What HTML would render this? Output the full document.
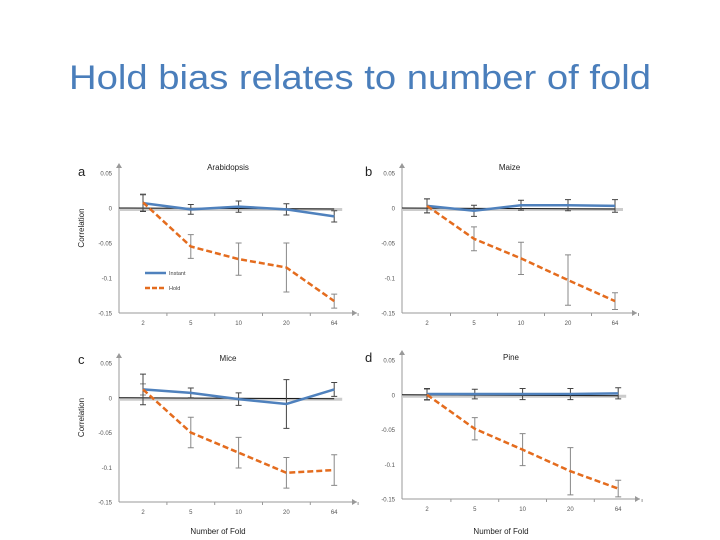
<!DOCTYPE html>
<html><head><meta charset="utf-8"><style>
html,body{margin:0;padding:0;background:#fff;}
svg{display:block;font-family:"Liberation Sans",sans-serif;}
</style></head><body>
<svg id="chart" width="720" height="540" viewBox="0 0 720 540">
<text x="69" y="89" font-size="34" fill="#4a7ebb" textLength="582" lengthAdjust="spacingAndGlyphs">Hold bias relates to number of fold</text>
</svg>
<script>
const categories = ["2","5","10","20","64"];
const yTicks = [0.05, 0, -0.05, -0.1, -0.15];
const yTickLabels = ["0.05","0","-0.05","-0.1","-0.15"];
const panelNames = ["Arabidopsis","Maize","Mice","Pine"];
const panelLetters = ["a","b","c","d"];
const instantA = [0.007,-0.002,0.002,-0.002,-0.012];
const instantAErr = [0.012,0.007,0.008,0.008,0.008];
const holdA = [0.008,-0.055,-0.073,-0.085,-0.133];
const holdAErr = [0.012,0.017,0.023,0.035,0.01];
const instantB = [0.003,-0.004,0.004,0.004,0.003];
const instantBErr = [0.01,0.008,0.007,0.008,0.009];
const holdB = [0.003,-0.044,-0.072,-0.103,-0.133];
const holdBErr = [0.01,0.017,0.023,0.036,0.012];
const instantC = [0.012,0.007,-0.002,-0.009,0.012];
const instantCErr = [0.022,0.007,0.009,0.035,0.01];
const holdC = [0.012,-0.05,-0.079,-0.108,-0.104];
const holdCErr = [0.008,0.022,0.022,0.022,0.022];
const instantD = [0.001,0.001,0.001,0.001,0.002];
const instantDErr = [0.008,0.007,0.008,0.008,0.008];
const holdD = [0,-0.049,-0.079,-0.11,-0.135];
const holdDErr = [0.008,0.016,0.023,0.034,0.012];

const svg = document.getElementById('chart');
const NS = 'http://www.w3.org/2000/svg';
function mk(tag, attrs, parent){const e=document.createElementNS(NS,tag);for(const k in attrs)e.setAttribute(k,attrs[k]);(parent||svg).appendChild(e);return e;}

const panels = [
 {ax:119, x0:143, dx:47.8, yTop:173, yBot:313, xEnd:357, inst:instantA, instE:instantAErr, hold:holdA, holdE:holdAErr, lx:78, ly:176, ty:170, xl:false, yl:true, legend:true},
 {ax:402, x0:427, dx:47, yTop:173, yBot:313, xEnd:637, inst:instantB, instE:instantBErr, hold:holdB, holdE:holdBErr, lx:365, ly:176, ty:170, xl:false, yl:false, legend:false},
 {ax:119, x0:143, dx:47.8, yTop:363, yBot:502, xEnd:357, inst:instantC, instE:instantCErr, hold:holdC, holdE:holdCErr, lx:78, ly:364, ty:361, xl:true, yl:true, legend:false},
 {ax:402, x0:427, dx:47.8, yTop:360, yBot:499, xEnd:640, inst:instantD, instE:instantDErr, hold:holdD, holdE:holdDErr, lx:365, ly:362, ty:360, xl:true, yl:false, legend:false}
];

panels.forEach((p,i)=>{
  const g = mk('g',{});
  
  
  const y = v => p.yTop + (0.05 - v) / 0.2 * (p.yBot - p.yTop);
  const x = k => p.x0 + k * p.dx;
  // axes
  const ya = mk('line',{x1:p.ax,y1:p.yTop-8,x2:p.ax,y2:p.yBot,stroke:'#999','stroke-width':1},g);
  
  
  mk('path',{d:`M${p.ax-3},${p.yTop-5} L${p.ax},${p.yTop-10} L${p.ax+3},${p.yTop-5}Z`,fill:'#999'},g);
  const xa = mk('line',{x1:p.ax,y1:p.yBot,x2:p.xEnd,y2:p.yBot,stroke:'#999','stroke-width':1},g);
  
  
  mk('path',{d:`M${p.xEnd-5},${p.yBot-3} L${p.xEnd},${p.yBot} L${p.xEnd-5},${p.yBot+3}Z`,fill:'#999'},g);
  yTicks.forEach((t,j)=>{
    const tl = mk('text',{x:p.ax-7,y:y(t)+2.5,'font-size':6,'text-anchor':'end',fill:'#555'},g);
    tl.textContent = yTickLabels[j];
    
    
  });
  categories.forEach((c,k)=>{
    mk('line',{x1:x(k)+p.dx/2,y1:p.yBot,x2:x(k)+p.dx/2,y2:p.yBot+3,stroke:'#999'},g);
    const tl = mk('text',{x:x(k),y:p.yBot+12,'font-size':6,'text-anchor':'middle',fill:'#555'},g);
    tl.textContent = c;
    
    
  });
  // zero reference line
  mk('line',{x1:p.ax,y1:y(0)+1.5,x2:x(4)+8,y2:y(0)+1.5,stroke:'#ccc','stroke-width':3},g);
  const zl = mk('line',{x1:p.ax,y1:y(0),x2:x(4),y2:y(0)+1,stroke:'#111','stroke-width':1},g);
  
  
  // error bars
  function errs(vals, es, col){
    vals.forEach((v,k)=>{
      const a=y(v+es[k]), b=y(v-es[k]);
      const eb = mk('path',{d:`M${x(k)},${a}V${b}M${x(k)-3},${a}H${x(k)+3}M${x(k)-3},${b}H${x(k)+3}`,stroke:col,'stroke-width':1,fill:'none'},g);
      
      
    });
  }
  errs(p.hold,p.holdE,'#888');
  errs(p.inst,p.instE,'#444');
  const pts = arr => arr.map((v,k)=>`${x(k)},${y(v)}`).join(' ');
  const il = mk('polyline',{points:pts(p.inst),fill:'none',stroke:'#4f81bd','stroke-width':2.5},g);
  
  
  const hl = mk('polyline',{points:pts(p.hold),fill:'none',stroke:'#e46c1e','stroke-width':2.5,'stroke-dasharray':'6,3'},g);
  
  
  // labels
  const lt = mk('text',{x:p.lx,y:p.ly,'font-size':13,fill:'#222'},g);
  lt.textContent = panelLetters[i];
  
  
  const tt = mk('text',{x:(p.ax+p.xEnd)/2-10,y:p.ty,'font-size':8,'text-anchor':'middle',fill:'#222'},g);
  tt.textContent = panelNames[i];
  
  
  if(p.yl){
    const yt = mk('text',{x:0,y:0,'font-size':8,'text-anchor':'middle',fill:'#222',transform:`translate(84,${(p.yTop+p.yBot)/2-15}) rotate(-90)`},g);
    yt.textContent = 'Correlation';
    
    
  }
  if(p.xl){
    const xt = mk('text',{x:(p.ax+p.xEnd)/2-20,y:534,'font-size':8,'text-anchor':'middle',fill:'#222'},g);
    xt.textContent = 'Number of Fold';
    
    
  }
  if(p.legend){
    const l1 = mk('line',{x1:145,y1:273,x2:166,y2:273,stroke:'#4f81bd','stroke-width':2.5},g);
    
    
    const t1 = mk('text',{x:169,y:275,'font-size':5.5,fill:'#444'},g);
    t1.textContent='Instant';
    
    
    const l2 = mk('line',{x1:145,y1:288,x2:166,y2:288,stroke:'#e46c1e','stroke-width':2.5,'stroke-dasharray':'5,2'},g);
    
    
    const t2 = mk('text',{x:169,y:290,'font-size':5.5,fill:'#444'},g);
    t2.textContent='Hold';
    
    
  }
});
</script>
</body></html>
